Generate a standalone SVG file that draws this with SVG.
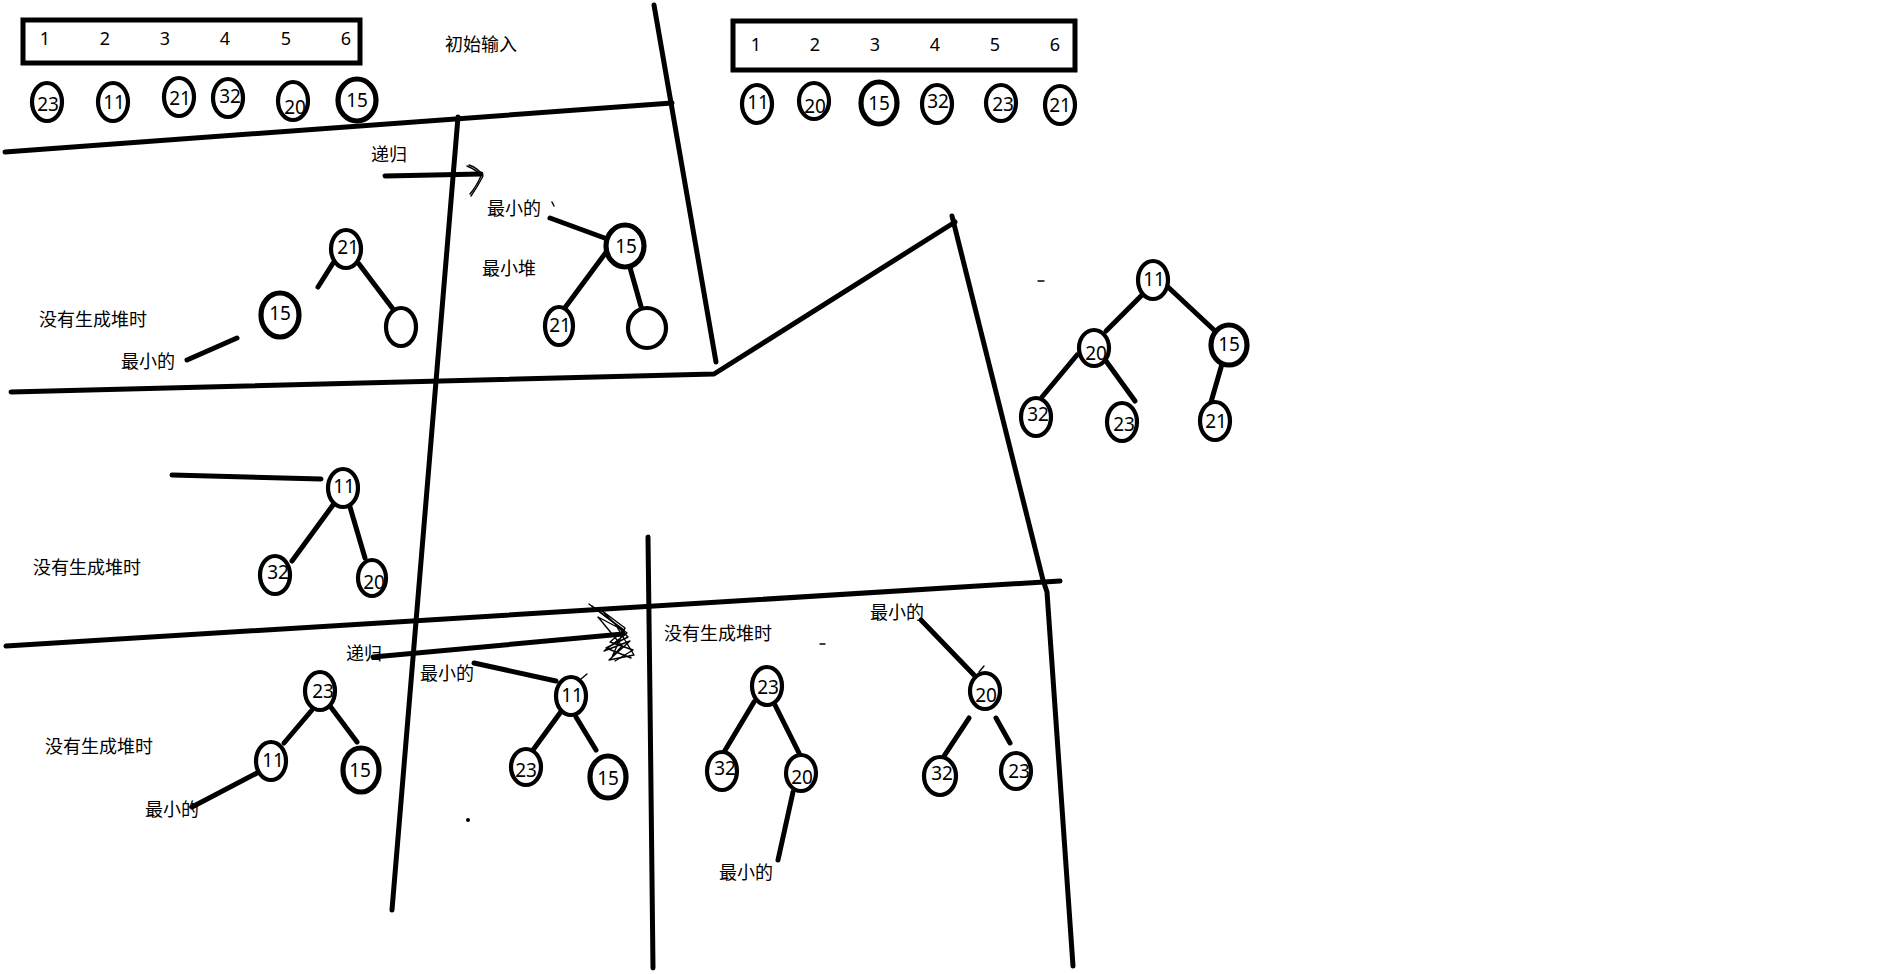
<svg xmlns="http://www.w3.org/2000/svg" width="1897" height="974" viewBox="0 0 1897 974">
<style>
.bg{fill:#fff}
.ln{stroke:#000;stroke-width:5;fill:none;stroke-linecap:round;stroke-linejoin:round}
.cn{stroke:#000;stroke-width:5;fill:none;stroke-linecap:round}
.thin{stroke:#000;stroke-width:1.4;fill:none;stroke-linecap:round;stroke-linejoin:round}
.nd{fill:#fff;stroke:#000;stroke-width:4.2}
.bd{fill:#fff;stroke:#000;stroke-width:5.2}
.box{fill:none;stroke:#000;stroke-width:5}
.num{font-family:"Noto Sans","Open Sans",sans-serif;font-size:19px;text-anchor:middle;dominant-baseline:central;fill:#000}
.idx{font-family:"Noto Sans","Open Sans",sans-serif;font-size:18px;text-anchor:middle;dominant-baseline:central;fill:#000}
.lbl{font-family:"Liberation Sans","Noto Sans CJK SC",sans-serif;font-size:18px;dominant-baseline:central;fill:#000}
</style>
<rect class="bg" x="0" y="0" width="1897" height="974"/>

<!-- separator lines -->
<g id="separators">
<path class="ln" d="M5,152 L672,103"/>
<path class="ln" d="M654,5 L716,362"/>
<path class="ln" d="M458,117 L392,910"/>
<path class="ln" d="M11,392 L714,374 L955,222"/>
<path class="ln" d="M952,216 L1043,580 L1047,592 L1073,966"/>
<path class="ln" d="M6,646 L1060,581"/>
<path class="ln" d="M648,537 L650,700 L653,968"/>
</g>

<!-- input boxes -->
<g id="box1">
<rect class="box" x="23" y="20" width="337" height="43"/>
<text class="idx" x="45" y="38">1</text>
<text class="idx" x="105" y="38">2</text>
<text class="idx" x="165" y="38">3</text>
<text class="idx" x="225" y="38">4</text>
<text class="idx" x="286" y="38">5</text>
<text class="idx" x="346" y="38">6</text>
</g>
<g id="box2">
<rect class="box" x="733" y="21" width="342" height="49"/>
<text class="idx" x="756" y="44">1</text>
<text class="idx" x="815" y="44">2</text>
<text class="idx" x="875" y="44">3</text>
<text class="idx" x="935" y="44">4</text>
<text class="idx" x="995" y="44">5</text>
<text class="idx" x="1055" y="44">6</text>
</g>

<!-- labels -->
<g id="labels">
<text class="lbl" x="445" y="45">初始输入</text>
<text class="lbl" x="371" y="155">递归</text>
<text class="lbl" x="487" y="209">最小的</text>
<text class="lbl" x="482" y="269">最小堆</text>
<text class="lbl" x="39" y="320">没有生成堆时</text>
<text class="lbl" x="121" y="362">最小的</text>
<text class="lbl" x="33" y="568">没有生成堆时</text>
<text class="lbl" x="346" y="654">递归</text>
<text class="lbl" x="420" y="674">最小的</text>
<text class="lbl" x="45" y="747">没有生成堆时</text>
<text class="lbl" x="145" y="810">最小的</text>
<text class="lbl" x="664" y="634">没有生成堆时</text>
<text class="lbl" x="870" y="613">最小的</text>
<text class="lbl" x="719" y="873">最小的</text>
</g>

<!-- connectors -->
<g id="connectors">
<path class="cn" d="M385,176 L481,174"/>
<path class="thin" d="M469,165 Q478,168 483,176 Q478,186 471,196"/>
<path class="thin" d="M467,166 Q477,170 481,176 Q476,187 470,194"/>
<path class="cn" d="M550,218 L610,240"/>
<path class="thin" d="M552,202 L554,206"/>
<path class="cn" d="M607,251 L564,309"/>
<path class="cn" d="M627,257 L642,310"/>
<path class="cn" d="M335,260 L318,287"/>
<path class="cn" d="M359,264 L393,309"/>
<path class="cn" d="M187,360 L237,338"/>
<path class="cn" d="M1142,295 L1106,331"/>
<path class="cn" d="M1168,287 L1214,330"/>
<path class="cn" d="M1077,355 L1042,397"/>
<path class="cn" d="M1106,361 L1135,401"/>
<path class="cn" d="M1222,364 L1211,402"/>
<path class="cn" d="M172,475 L321,479"/>
<path class="cn" d="M333,505 L292,561"/>
<path class="cn" d="M350,507 L365,558"/>
<path class="cn" d="M373,657 L623,634"/>
<path class="thin" d="M589,604 L627,633 L604,651 L630,641 L609,660 L634,655 L617,627 L598,617 L622,646 L612,657 L625,628 L601,610 L628,637 L606,648 L631,658"/>
<path class="thin" d="M592,606 L624,630 L610,642 L633,650 L615,661"/>
<path class="cn" d="M474,663 L556,681"/>
<path class="thin" d="M581,679 L587,674"/>
<path class="cn" d="M560,713 L533,750"/>
<path class="cn" d="M576,717 L596,750"/>
<path class="cn" d="M312,710 L284,743"/>
<path class="cn" d="M330,706 L357,742"/>
<path class="cn" d="M257,773 L192,807"/>
<path class="cn" d="M754,702 L724,752"/>
<path class="cn" d="M775,705 L800,755"/>
<path class="cn" d="M793,792 L778,860"/>
<path class="cn" d="M921,620 L974,675"/>
<path class="thin" d="M979,672 L984,666"/>
<path class="cn" d="M969,718 L942,759"/>
<path class="cn" d="M996,718 L1010,743"/>
<path class="thin" d="M1038,281 L1044,281"/>
<path class="thin" d="M820,644 L825,644"/>
<circle cx="468" cy="820" r="2" fill="#000"/>
</g>

<!-- top row circles (input) -->
<g id="in23"><ellipse class="nd" cx="47" cy="102" rx="15" ry="19"/><text class="num" x="48" y="104">23</text></g>
<g id="in11"><ellipse class="nd" cx="113" cy="102" rx="15" ry="19"/><text class="num" x="114" y="102">11</text></g>
<g id="in21"><ellipse class="nd" cx="179" cy="97" rx="15" ry="19"/><text class="num" x="180" y="98">21</text></g>
<g id="in32"><ellipse class="nd" cx="228" cy="98" rx="15" ry="19"/><text class="num" x="230" y="96">32</text></g>
<g id="in20"><ellipse class="nd" cx="293" cy="101" rx="15" ry="19"/><text class="num" x="295" y="107">20</text></g>
<g id="in15"><ellipse class="bd" cx="357" cy="100" rx="19" ry="21"/><text class="num" x="357" y="100">15</text></g>

<!-- output row circles -->
<g id="out11"><ellipse class="nd" cx="757" cy="104" rx="15" ry="19"/><text class="num" x="758" y="102">11</text></g>
<g id="out20"><ellipse class="nd" cx="814" cy="101" rx="15" ry="18"/><text class="num" x="815" y="106">20</text></g>
<g id="out15"><ellipse class="bd" cx="879" cy="103" rx="18" ry="21"/><text class="num" x="879" y="103">15</text></g>
<g id="out32"><ellipse class="nd" cx="937" cy="104" rx="15" ry="19"/><text class="num" x="938" y="101">32</text></g>
<g id="out23"><ellipse class="nd" cx="1001" cy="103" rx="15" ry="18"/><text class="num" x="1003" y="104">23</text></g>
<g id="out21"><ellipse class="nd" cx="1060" cy="105" rx="15" ry="19"/><text class="num" x="1060" y="105">21</text></g>

<!-- step 1 left tree -->
<g id="s1_21"><ellipse class="nd" cx="346" cy="249" rx="15" ry="19"/><text class="num" x="348" y="247">21</text></g>
<g id="s1_15"><ellipse class="bd" cx="280" cy="315" rx="19" ry="22"/><text class="num" x="280" y="313">15</text></g>
<g id="s1_e"><ellipse class="nd" cx="401" cy="327" rx="15" ry="19"/></g>

<!-- step 1 right tree -->
<g id="s1r_15"><ellipse class="bd" cx="625" cy="246" rx="19" ry="21"/><text class="num" x="626" y="246">15</text></g>
<g id="s1r_21"><ellipse class="nd" cx="559" cy="326" rx="14" ry="19"/><text class="num" x="560" y="325">21</text></g>
<g id="s1r_e"><ellipse class="nd" cx="647" cy="328" rx="19" ry="20"/></g>

<!-- final heap -->
<g id="h11"><ellipse class="nd" cx="1153" cy="280" rx="15" ry="19"/><text class="num" x="1154" y="279">11</text></g>
<g id="h20"><ellipse class="nd" cx="1094" cy="348" rx="15" ry="18"/><text class="num" x="1096" y="353">20</text></g>
<g id="h15"><ellipse class="bd" cx="1229" cy="345" rx="18" ry="20"/><text class="num" x="1229" y="344">15</text></g>
<g id="h32"><ellipse class="nd" cx="1036" cy="417" rx="15" ry="19"/><text class="num" x="1038" y="414">32</text></g>
<g id="h23"><ellipse class="nd" cx="1122" cy="422" rx="15" ry="19"/><text class="num" x="1124" y="424">23</text></g>
<g id="h21"><ellipse class="nd" cx="1215" cy="421" rx="15" ry="19"/><text class="num" x="1216" y="421">21</text></g>

<!-- step 2 -->
<g id="s2_11"><ellipse class="nd" cx="343" cy="488" rx="15" ry="19"/><text class="num" x="344" y="486">11</text></g>
<g id="s2_32"><ellipse class="nd" cx="275" cy="575" rx="15" ry="19"/><text class="num" x="278" y="572">32</text></g>
<g id="s2_20"><ellipse class="nd" cx="372" cy="578" rx="14" ry="18"/><text class="num" x="374" y="582">20</text></g>

<!-- step 3 left -->
<g id="s3_23"><ellipse class="nd" cx="320" cy="691" rx="15" ry="19"/><text class="num" x="323" y="691">23</text></g>
<g id="s3_11"><ellipse class="nd" cx="271" cy="761" rx="15" ry="19"/><text class="num" x="273" y="760">11</text></g>
<g id="s3_15"><ellipse class="bd" cx="361" cy="770" rx="18" ry="22"/><text class="num" x="360" y="770">15</text></g>

<!-- step 3 right -->
<g id="s3r_11"><ellipse class="nd" cx="571" cy="696" rx="15" ry="19"/><text class="num" x="572" y="695">11</text></g>
<g id="s3r_23"><ellipse class="nd" cx="526" cy="767" rx="15" ry="18"/><text class="num" x="526" y="770">23</text></g>
<g id="s3r_15"><ellipse class="bd" cx="608" cy="777" rx="18" ry="21"/><text class="num" x="608" y="778">15</text></g>

<!-- step 4 left -->
<g id="s4_23"><ellipse class="nd" cx="767" cy="686" rx="15" ry="19"/><text class="num" x="768" y="687">23</text></g>
<g id="s4_32"><ellipse class="nd" cx="722" cy="771" rx="15" ry="19"/><text class="num" x="725" y="768">32</text></g>
<g id="s4_20"><ellipse class="nd" cx="801" cy="773" rx="15" ry="18"/><text class="num" x="802" y="777">20</text></g>

<!-- step 4 right -->
<g id="s4r_20"><ellipse class="nd" cx="985" cy="691" rx="15" ry="18"/><text class="num" x="986" y="695">20</text></g>
<g id="s4r_32"><ellipse class="nd" cx="940" cy="776" rx="16" ry="19"/><text class="num" x="942" y="773">32</text></g>
<g id="s4r_23"><ellipse class="nd" cx="1016" cy="771" rx="15" ry="18"/><text class="num" x="1019" y="771">23</text></g>
</svg>
